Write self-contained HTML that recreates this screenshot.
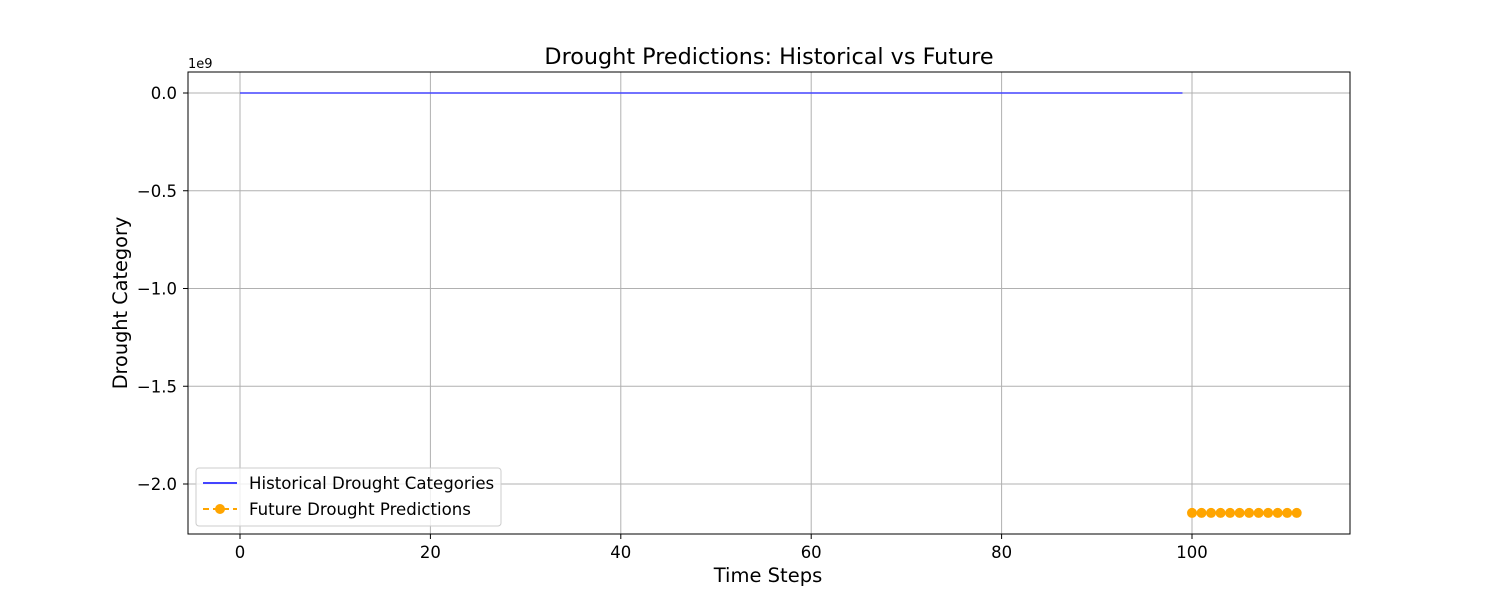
<!DOCTYPE html>
<html><head><meta charset="utf-8"><style>
body{margin:0;background:#fff;}
svg text{font-family:"DejaVu Sans","Liberation Sans",sans-serif;}
</style></head><body>
<svg id="chart" width="1500" height="600" xmlns="http://www.w3.org/2000/svg">
<rect width="1500" height="600" fill="#fff"/>
<g id="grid"></g>
<g id="series"></g>
<rect x="188" y="72" width="1162" height="462" fill="none" stroke="#000" stroke-width="1"/>
<g id="ticks"></g>
<text x="769" y="64" font-size="22.3" text-anchor="middle">Drought Predictions: Historical vs Future</text>
<text x="768" y="582" font-size="19.5" text-anchor="middle">Time Steps</text>
<text x="127" y="303" font-size="19.3" text-anchor="middle" transform="rotate(-90 127 303)">Drought Category</text>
<text x="188" y="68" font-size="13">1e9</text>
<g>
<rect x="196" y="468" width="305" height="58" rx="3" fill="#fff" fill-opacity="0.8" stroke="#ccc"/>
<line x1="203" y1="483" x2="237" y2="483" stroke="#4444ff" stroke-width="2"/>
<text x="249" y="489" font-size="16.6">Historical Drought Categories</text>
<line x1="203" y1="509" x2="237" y2="509" stroke="orange" stroke-width="2" stroke-dasharray="6,4"/>
<circle cx="220" cy="509" r="5" fill="orange"/>
<text x="249" y="515" font-size="16.6">Future Drought Predictions</text>
</g>
</svg>
<script>
const histValues = new Array(100).fill(0);
const futureSteps = [100,101,102,103,104,105,106,107,108,109,110,111];
const futureValues = [-2.148e9,-2.148e9,-2.148e9,-2.148e9,-2.148e9,-2.148e9,-2.148e9,-2.148e9,-2.148e9,-2.148e9,-2.148e9,-2.148e9];
const xTicks = [0,20,40,60,80,100];
const yTicks = [0,-0.5e9,-1.0e9,-1.5e9,-2.0e9];
const yTickLabels = ["0.0","\u22120.5","\u22121.0","\u22121.5","\u22122.0"];
const NS="http://www.w3.org/2000/svg";
const xs = v => 240 + v*9.52;
const ys = v => 93 - v/1e9*195.5;
function mk(tag, attrs, parent){const e=document.createElementNS(NS,tag);for(const k in attrs)e.setAttribute(k,attrs[k]);document.getElementById(parent).appendChild(e);return e;}
xTicks.forEach(t=>{
  const g=mk('line',{x1:xs(t),x2:xs(t),y1:72,y2:534,stroke:'#b0b0b0','stroke-width':1},'grid');
  
  
  mk('line',{x1:xs(t),x2:xs(t),y1:534,y2:539,stroke:'#000'},'ticks');
  const l=mk('text',{x:xs(t),y:558,'font-size':16.5,'text-anchor':'middle'},'ticks');
  l.textContent=t;
  
  
});
yTicks.forEach((t,i)=>{
  const g=mk('line',{x1:188,x2:1350,y1:ys(t),y2:ys(t),stroke:'#b0b0b0','stroke-width':1},'grid');
  
  
  mk('line',{x1:183,x2:188,y1:ys(t),y2:ys(t),stroke:'#000'},'ticks');
  const l=mk('text',{x:177,y:ys(t)+6,'font-size':16.5,'text-anchor':'end'},'ticks');
  l.textContent=yTickLabels[i];
  
  
});
const hp=mk('polyline',{points:histValues.map((v,i)=>xs(i)+','+ys(v)).join(' '),fill:'none',stroke:'#4444ff','stroke-width':1.5},'series');


const fp=mk('polyline',{points:futureSteps.map((s,i)=>xs(s)+','+ys(futureValues[i])).join(' '),fill:'none',stroke:'orange','stroke-width':2,'stroke-dasharray':'6,4'},'series');


futureSteps.forEach((s,i)=>{
  const c=mk('circle',{cx:xs(s),cy:ys(futureValues[i]),r:5,fill:'orange'},'series');
  
  
});
</script>
</body></html>
